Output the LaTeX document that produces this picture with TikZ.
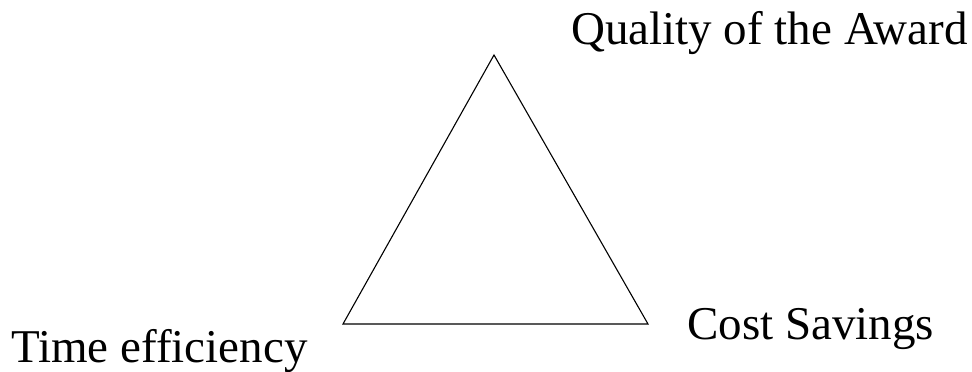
\documentclass[tikz,border=0pt]{standalone}
\usepackage{fontspec}
\setmainfont{Liberation Serif}
\begin{document}
\begin{tikzpicture}[x=1pt,y=1pt,
  lbl/.style={anchor=base west,inner sep=0pt,font=\fontsize{47}{51}\selectfont},
  edge/.style={line width=1.1pt,line join=miter}]
\useasboundingbox (0,0) rectangle (972,372);
\coordinate (apex) at (494,317);
\coordinate (bl) at (343,48);
\coordinate (br) at (648,48);
\draw[edge] (apex) -- (bl) -- (br) -- cycle;
\node[lbl] (quality) at (571,327) {Quality of the Award};
\node[lbl] (time) at (11,9) {Time efficiency};
\node[lbl] (cost) at (687,32) {Cost Savings};
\end{tikzpicture}
\end{document}
